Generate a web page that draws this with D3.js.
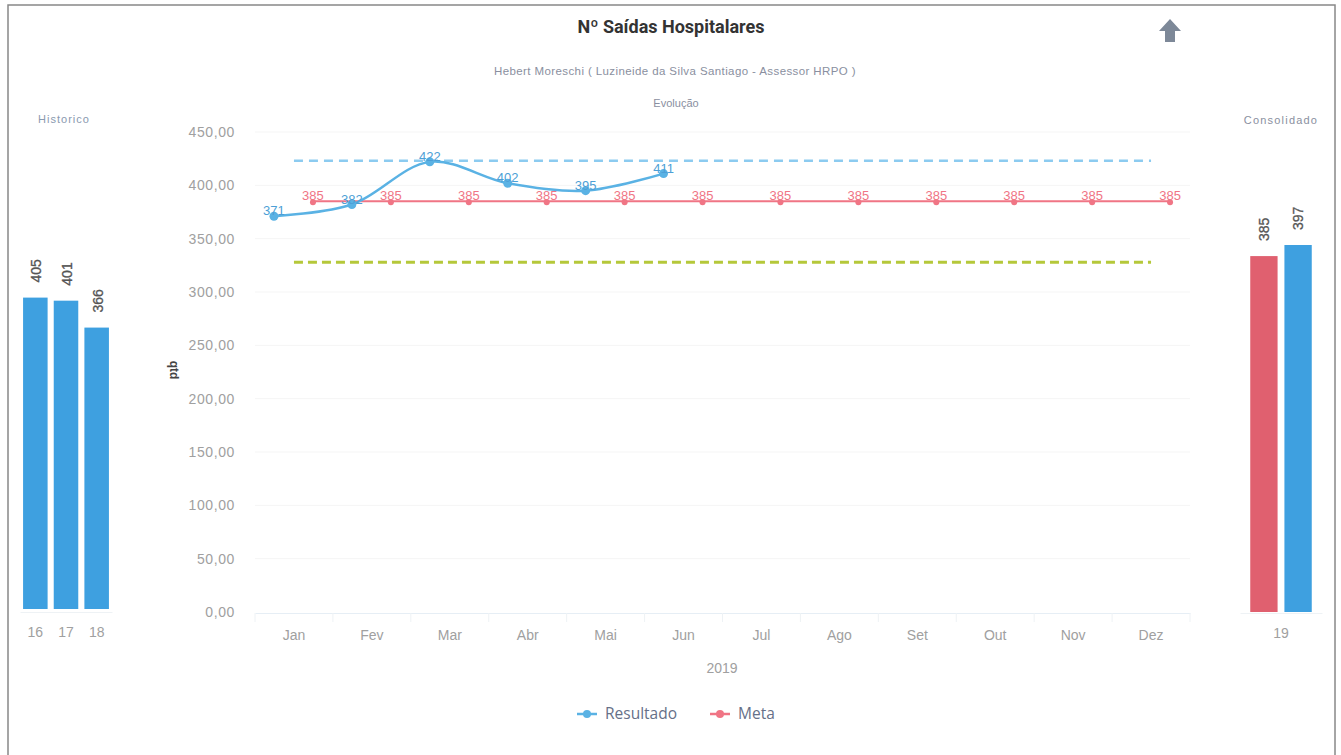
<!DOCTYPE html>
<html>
<head>
<meta charset="utf-8">
<script src="https://cdn.jsdelivr.net/npm/d3@7"></script>
<style>
  body { margin: 0; background: #fff; font-family: "Liberation Sans", Arial, sans-serif; }
</style>
</head>
<body>
<div id="chart"></div>
<script>
// Data
var months = ["Jan", "Fev", "Mar", "Abr", "Mai", "Jun", "Jul", "Ago", "Set", "Out", "Nov", "Dez"];
var resultado = [371, 382, 422, 402, 395, 411];
var meta = [385, 385, 385, 385, 385, 385, 385, 385, 385, 385, 385, 385];
var limiteSuperior = 423;
var limiteInferior = 328;
var yTicks = [0, 50, 100, 150, 200, 250, 300, 350, 400, 450];

var histYears = ["16", "17", "18"];
var histValues = [405, 401, 366];

var consYear = "19";
var consKeys = ["Meta", "Resultado"];
var consValues = [385, 397];

var w = 1341, h = 755;
var blue = "#5ab2e4", barBlue = "#3ea0e0", pink = "#f07585", red = "#e0606f";

var svg = d3.select("#chart").append("svg")
    .attr("width", w)
    .attr("height", h);

// frame
svg.append("rect")
    .attr("x", 8).attr("y", 5)
    .attr("width", 1327).attr("height", 760)
    .attr("fill", "none")
    .attr("stroke", "#888")
    .attr("stroke-width", 1.5);

// titles
svg.append("text")
    .attr("x", 671).attr("y", 33)
    .attr("text-anchor", "middle")
    .style("font-family", "Roboto, 'Liberation Sans', Arial")
    .style("font-size", "18px")
    .style("font-weight", "bold")
    .attr("fill", "#333")
    .text("Nº Saídas Hospitalares");

svg.append("text")
    .attr("x", 675).attr("y", 75)
    .attr("text-anchor", "middle")
    .style("font-size", "11.5px")
    .style("letter-spacing", "0.4px")
    .attr("fill", "#8a8fa0")
    .text("Hebert Moreschi ( Luzineide da Silva Santiago - Assessor HRPO )");

svg.append("text")
    .attr("x", 676).attr("y", 107)
    .attr("text-anchor", "middle")
    .style("font-size", "11px")
    .attr("fill", "#8a8fa0")
    .text("Evolução");

svg.append("text")
    .attr("x", 64).attr("y", 123)
    .attr("text-anchor", "middle")
    .style("font-size", "11px")
    .style("letter-spacing", "1px")
    .attr("fill", "#8a9ab0")
    .text("Historico");

svg.append("text")
    .attr("x", 1281).attr("y", 124)
    .attr("text-anchor", "middle")
    .style("font-size", "11px")
    .style("letter-spacing", "1.2px")
    .attr("fill", "#8a8fa0")
    .text("Consolidado");

// up arrow icon
svg.append("path")
    .attr("d", "M1170,19 L1181,31 L1175,31 L1175,42 L1165,42 L1165,31 L1159,31 Z")
    .attr("fill", "#7d8898");

// ---------- main chart ----------
var xScale = d3.scaleBand()
    .domain(months)
    .range([255, 1190]);

var yScale = d3.scaleLinear()
    .domain([0, 450])
    .range([612, 132]);

var resX = d => xScale(d) + xScale.bandwidth() / 2 - 20;
var metaX = d => xScale(d) + xScale.bandwidth() / 2 + 19;
var midX = d => xScale(d) + xScale.bandwidth() / 2;

// grid
svg.append("g")
    .selectAll("line")
    .data(yTicks.slice(1))
    .enter()
    .append("line")
    .attr("x1", 255).attr("x2", 1190)
    .attr("y1", d => yScale(d)).attr("y2", d => yScale(d))
    .attr("stroke", "#f5f5f5");

// y axis labels
svg.append("g")
    .selectAll("text")
    .data(yTicks)
    .enter()
    .append("text")
    .attr("x", 235)
    .attr("y", d => yScale(d))
    .attr("dy", "0.35em")
    .attr("text-anchor", "end")
    .style("font-size", "14px")
    .style("letter-spacing", "0.6px")
    .attr("fill", "#a0a0a0")
    .text(d => d3.format(".2f")(d).replace(".", ","));

svg.append("text")
    .attr("transform", "translate(170,370) rotate(90)")
    .attr("text-anchor", "middle")
    .style("font-size", "12px")
    .style("font-weight", "bold")
    .attr("fill", "#444")
    .text("qtd");

// x axis
var xAxis = svg.append("g")
    .attr("transform", "translate(0,613)")
    .call(d3.axisBottom(xScale).tickSize(0).tickPadding(17));
xAxis.select(".domain").attr("stroke", "#e6eef5");
xAxis.selectAll("text")
    .style("font-size", "14px")
    .style("font-family", "'Liberation Sans', Arial")
    .attr("fill", "#a0a0a0");
svg.append("g")
    .selectAll("line")
    .data(months.concat(["end"]))
    .enter()
    .append("line")
    .attr("x1", (d, i) => 255 + i * xScale.step())
    .attr("x2", (d, i) => 255 + i * xScale.step())
    .attr("y1", 613).attr("y2", 622)
    .attr("stroke", "#eef2f5");

svg.append("text")
    .attr("x", 722).attr("y", 673)
    .attr("text-anchor", "middle")
    .style("font-size", "14px")
    .attr("fill", "#a0a0a0")
    .text("2019");

// threshold dashed lines
svg.append("line")
    .attr("x1", midX("Jan")).attr("x2", midX("Dez"))
    .attr("y1", yScale(limiteSuperior)).attr("y2", yScale(limiteSuperior))
    .attr("stroke", "#8ccbf0")
    .attr("stroke-width", 2.5)
    .attr("stroke-dasharray", "9,6");

svg.append("line")
    .attr("x1", midX("Jan")).attr("x2", midX("Dez"))
    .attr("y1", yScale(limiteInferior)).attr("y2", yScale(limiteInferior))
    .attr("stroke", "#b5c83a")
    .attr("stroke-width", 3)
    .attr("stroke-dasharray", "9,5");

// meta line
var metaLine = d3.line()
    .x((d, i) => metaX(months[i]))
    .y(d => yScale(d));

svg.append("path")
    .datum(meta)
    .attr("d", metaLine)
    .attr("fill", "none")
    .attr("stroke", pink)
    .attr("stroke-width", 2);

svg.append("g")
    .selectAll("circle")
    .data(meta)
    .enter()
    .append("circle")
    .attr("cx", (d, i) => metaX(months[i]))
    .attr("cy", d => yScale(d) + 1)
    .attr("r", 3)
    .attr("fill", pink);

svg.append("g")
    .selectAll("text")
    .data(meta)
    .enter()
    .append("text")
    .attr("x", (d, i) => metaX(months[i]))
    .attr("y", d => yScale(d) - 1)
    .attr("text-anchor", "middle")
    .style("font-size", "13px")
    .attr("fill", pink)
    .text(d => d);

// resultado curve
var resLine = d3.line()
    .x((d, i) => resX(months[i]))
    .y(d => yScale(d))
    .curve(d3.curveCatmullRom.alpha(0.5));

svg.append("path")
    .datum(resultado)
    .attr("d", resLine)
    .attr("fill", "none")
    .attr("stroke", blue)
    .attr("stroke-width", 2.5);

svg.append("g")
    .selectAll("circle")
    .data(resultado)
    .enter()
    .append("circle")
    .attr("cx", (d, i) => resX(months[i]))
    .attr("cy", d => yScale(d))
    .attr("r", 4.5)
    .attr("fill", blue);

svg.append("g")
    .selectAll("text")
    .data(resultado)
    .enter()
    .append("text")
    .attr("x", (d, i) => resX(months[i]))
    .attr("y", d => yScale(d) - 1)
    .attr("text-anchor", "middle")
    .style("font-size", "13px")
    .attr("fill", "#4d9fd6")
    .text(d => d);

// legend
var legend = svg.append("g").attr("transform", "translate(577,714)");
[["Resultado", blue, 0], ["Meta", pink, 133]].forEach(function(item) {
    var g = legend.append("g").attr("transform", `translate(${item[2]},0)`);
    g.append("line")
        .attr("x1", 0).attr("x2", 20)
        .attr("stroke", item[1]).attr("stroke-width", 2.5);
    g.append("circle")
        .attr("cx", 10).attr("r", 4)
        .attr("fill", item[1]);
    g.append("text")
        .attr("x", 28)
        .attr("dy", "0.35em")
        .style("font-family", "'Open Sans', 'Noto Sans', sans-serif")
        .style("font-size", "15.5px")
        .attr("fill", "#667088")
        .text(item[0]);
});

// ---------- historico ----------
var hx = d3.scaleBand()
    .domain(histYears)
    .range([20, 112])
    .paddingInner(0.2)
    .paddingOuter(0.1);

var hy = d3.scaleLinear()
    .domain([0, 450])
    .range([609, 263]);

svg.append("g")
    .selectAll("rect")
    .data(histValues)
    .enter()
    .append("rect")
    .attr("x", (d, i) => hx(histYears[i]))
    .attr("y", d => hy(d))
    .attr("width", hx.bandwidth())
    .attr("height", d => hy(0) - hy(d))
    .attr("fill", barBlue);

svg.append("g")
    .selectAll("text")
    .data(histValues)
    .enter()
    .append("text")
    .attr("transform", (d, i) => `translate(${hx(histYears[i]) + hx.bandwidth() / 2 + 1},${hy(d) - 15}) rotate(-90)`)
    .attr("dy", "0.35em")
    .style("font-size", "14px")
    .attr("fill", "#555")
    .attr("stroke", "#555")
    .attr("stroke-width", 0.3)
    .text(d => d);

var hAxis = svg.append("g")
    .attr("transform", "translate(0,612)")
    .call(d3.axisBottom(hx).tickSize(0).tickPadding(15));
hAxis.select(".domain").attr("stroke", "#eef2f5");
hAxis.selectAll("text")
    .style("font-size", "14px")
    .style("font-family", "'Liberation Sans', Arial")
    .attr("fill", "#a0a0a0");

// ---------- consolidado ----------
var cx0 = d3.scaleBand()
    .domain([consYear])
    .range([1240, 1322]);

var cx1 = d3.scaleBand()
    .domain(consKeys)
    .range([0, cx0.bandwidth()])
    .paddingInner(0.2)
    .paddingOuter(0.3);

var cy = d3.scaleLinear()
    .domain([0, 450])
    .range([612, 196]);

var cColor = d3.scaleOrdinal().domain(consKeys).range([red, barBlue]);

svg.append("g")
    .selectAll("rect")
    .data(consValues)
    .enter()
    .append("rect")
    .attr("x", (d, i) => cx0(consYear) + cx1(consKeys[i]))
    .attr("y", d => cy(d))
    .attr("width", cx1.bandwidth())
    .attr("height", d => cy(0) - cy(d))
    .attr("fill", (d, i) => cColor(consKeys[i]));

svg.append("g")
    .selectAll("text")
    .data(consValues)
    .enter()
    .append("text")
    .attr("transform", (d, i) => `translate(${cx0(consYear) + cx1(consKeys[i]) + cx1.bandwidth() / 2},${cy(d) - 15}) rotate(-90)`)
    .attr("dy", "0.35em")
    .style("font-size", "14px")
    .attr("fill", "#555")
    .attr("stroke", "#555")
    .attr("stroke-width", 0.3)
    .text(d => d);

var cAxis = svg.append("g")
    .attr("transform", "translate(0,613)")
    .call(d3.axisBottom(cx0).tickSize(0).tickPadding(15));
cAxis.select(".domain").attr("stroke", "#eef2f5");
cAxis.selectAll("text")
    .style("font-size", "14px")
    .style("font-family", "'Liberation Sans', Arial")
    .attr("fill", "#a0a0a0");
</script>
</body>
</html>
